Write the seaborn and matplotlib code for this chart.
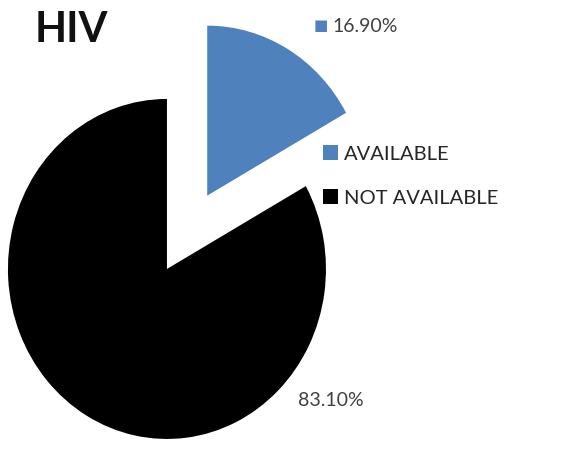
import matplotlib
matplotlib.use("Agg")
import matplotlib.pyplot as plt
import seaborn as sns

categories = ["AVAILABLE", "NOT AVAILABLE"]
shares = [16.90, 83.10]
share_labels = ["16.90%", "83.10%"]
title = "HIV"

sns.set_theme(style="white")
plt.rcParams["font.family"] = ["Lato", "DejaVu Sans"]

colors = ["#4F81BD", "#000000"]

fig = plt.figure(figsize=(5.71, 4.49), dpi=100)
ax = fig.add_axes([0, 0, 1, 1])

wedges, _ = ax.pie(
    shares, colors=colors, startangle=90, counterclock=False,
    explode=[0.5, 0], radius=1.0, wedgeprops={"linewidth": 0},
)
ax.set_aspect("auto")
ax.set_xlim(-1.050, 2.541)
ax.set_ylim(-1.059, 1.582)
ax.axis("off")

# data labels
label_color = "#404040"
ax.text(0.97, 1.43, "\u25A0", color=colors[0], fontsize=11, ha="center", va="center")
ax.text(1.245, 1.425, share_labels[0], color=label_color, fontsize=14, ha="center", va="center")
ax.text(1.03, -0.776, share_labels[1], color=label_color, fontsize=14, ha="center", va="center")

fig.text(0.061, 0.933, title, fontsize=30, fontweight="bold", color="#111111",
         ha="left", va="center")

leg = ax.legend(
    wedges, categories, loc="upper left", bbox_to_anchor=(0.565, 0.676),
    bbox_transform=fig.transFigure, frameon=False, fontsize=14.5,
    handlelength=0.75, handleheight=0.75, handletextpad=0.3,
    labelspacing=1.32, borderpad=0, borderaxespad=0,
)
for t in leg.get_texts():
    t.set_color("#262626")

fig.savefig("out.png", dpi=100)
